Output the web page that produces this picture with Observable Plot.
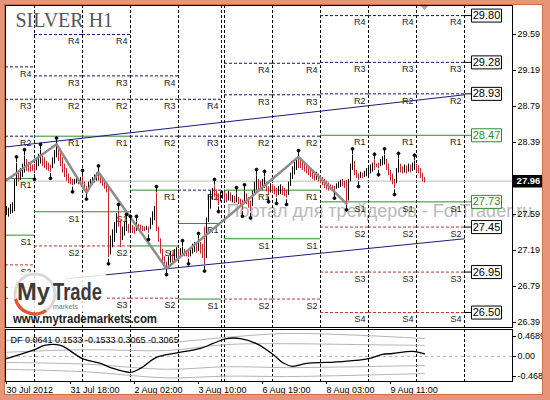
<!DOCTYPE html>
<html><head><meta charset="utf-8">
<script src="https://cdn.jsdelivr.net/npm/d3@7"></script>
<script src="https://cdn.jsdelivr.net/npm/@observablehq/plot@0.6"></script>
<style>
html,body{margin:0;padding:0;background:#fff;}
#wrap{position:relative;width:550px;height:400px;overflow:hidden;background:#fff;font-family:"Liberation Sans",Arial,sans-serif;}
#main{position:absolute;left:0;top:0;}
#ind{position:absolute;left:0;top:327px;}
#logo{position:absolute;left:0;top:0;pointer-events:none;}
#border{position:absolute;left:0;top:0;width:550px;height:400px;box-sizing:border-box;border-style:solid;border-color:#e6957a;border-width:4px 7px 5px 4px;box-shadow:inset 0 0 0 1px #c9704f;pointer-events:none;}
</style></head>
<body><div id="wrap"><div id="main"></div><div id="ind"></div>
<svg id="logo" width="550" height="400">
  <rect x="9" y="272" width="98" height="40" rx="6" fill="#fff" opacity="0.85"/>
  <circle cx="35" cy="294" r="20" fill="none" stroke="#d9d9d9" stroke-width="3"/>
  <path d="M 15.5 299 A 20 20 0 0 0 46 310.5" fill="none" stroke="#e2532f" stroke-width="3.2"/>
  <text x="17" y="300" font-family="Liberation Sans, Arial, sans-serif" font-weight="bold" font-size="24" fill="#3b3b3b" textLength="33" lengthAdjust="spacingAndGlyphs">My</text>
  <text x="53" y="300" font-family="Liberation Sans, Arial, sans-serif" font-weight="bold" font-size="24" fill="#3b3b3b" textLength="49" lengthAdjust="spacingAndGlyphs">Trade</text>
  <text x="53" y="309" font-family="Liberation Sans, Arial, sans-serif" font-size="7" fill="#7a7a7a">markets</text>
  <text x="13" y="323" font-family="Liberation Sans, Arial, sans-serif" font-weight="bold" font-size="12.5" fill="#222" textLength="144" lengthAdjust="spacingAndGlyphs">www.mytrademarkets.com</text>
</svg>
<div id="border"></div></div>
<script>
// ---------- data ----------
const priceTicks = [29.59, 29.19, 28.79, 28.39, 27.99, 27.59, 27.19, 26.79, 26.39];
const lastPrice = 27.96;
const days = ["30 Jul","31 Jul","1 Aug","2 Aug","3 Aug","6 Aug","7 Aug","8 Aug","9 Aug","10 Aug"];
const dayStart = [-0.5, 14, 38, 62, 86, 109, 133, 157, 181, 205];
const dayEnd   = [14, 38, 62, 86, 107.5, 133, 157, 181, 205, 229];
const separators = [14, 38, 62, 86, 107.5, 109, 133, 157, 181, 205, 229];
const levelR4 = [29.23, 29.59, 29.59, 29.13, 28.87, 29.27, 29.27, 29.80, 29.80, 29.80];
const levelR3 = [28.87, 29.13, 29.13, 28.87, 28.46, 28.92, 28.92, 29.28, 29.28, 29.28];
const levelR2 = [28.46, 28.87, 28.87, 28.46, 27.86, 28.46, 28.46, 28.93, 28.93, 28.93];
const levelR1 = [27.99, 28.46, 28.46, 27.86, 27.49, 27.86, 27.86, 28.47, 28.47, 28.47];
const levelS1 = [27.36, 27.62, 27.62, 27.24, 26.65, 27.32, 27.32, 27.73, 27.73, 27.73];
const levelS2 = [27.03, 27.24, 27.24, 26.66, null, 26.65, 26.65, 27.45, 27.45, 27.45];
const levelS3 = [26.78, 26.66, 26.66, null, null, null, null, 26.95, 26.95, 26.95];
const levelS4 = [26.66, null, null, null, null, null, null, 26.50, 26.50, 26.50];
// level labels covered by the logo in the reference (not drawn)
const hiddenLabels = ["30 Jul S3", "30 Jul S4", "31 Jul S3"];

// H1 bars (bar index 0 = first visible hour)
const barHigh = [
 27.68,27.66,27.70,27.72,27.98,28.16,28.08,28.10,28.15,28.24,
 28.20,28.17,28.15,28.14,28.15,28.22,28.26,28.30,28.26,28.22,
 28.18,28.16,28.14,28.22,28.30,28.37,28.33,28.28,28.22,28.15,
 28.10,28.04,28.00,27.98,27.98,27.99,27.99,28.00,28.01,27.95,
 27.90,27.95,27.98,28.00,28.03,28.05,28.06,28.03,28.00,27.97,
 27.93,27.90,27.35,27.42,27.50,27.60,27.63,27.52,27.45,27.50,
 27.52,27.48,27.50,27.47,27.45,27.50,27.48,27.47,27.46,27.45,
 27.46,27.45,27.55,27.62,27.68,27.83,27.45,27.32,27.20,27.12,
 27.06,27.12,27.18,27.15,27.20,27.22,27.20,27.21,27.23,27.20,
 27.17,27.18,27.22,27.26,27.28,27.27,27.31,27.28,27.26,27.45,
 27.55,27.80,27.85,27.88,27.91,27.86,27.82,27.84,27.85,27.84,
 27.82,27.85,27.83,27.80,27.79,27.82,27.78,27.76,27.75,27.85,
 27.82,27.78,27.74,27.85,27.95,28.02,27.98,27.96,27.98,28.00,
 27.95,27.90,27.93,27.92,27.90,27.88,27.90,27.92,27.90,27.88,
 27.86,27.95,28.05,28.12,28.17,28.20,28.23,28.20,28.18,28.16,
 28.14,28.12,28.10,28.08,28.06,28.06,28.04,28.02,28.00,27.98,
 27.96,27.94,27.92,27.91,27.90,27.93,27.95,27.97,27.98,27.96,
 27.97,27.98,28.15,28.25,28.18,28.08,28.04,28.06,28.05,28.07,
 28.10,28.12,28.14,28.16,28.19,28.15,28.16,28.20,28.23,28.25,
 28.20,28.15,28.08,28.04,27.98,28.10,28.20,28.15,28.12,28.14,
 28.13,28.15,28.14,28.16,28.18,28.15,28.13,28.10,28.05,28.00];
const barLow = [
 27.58,27.56,27.59,27.60,27.62,27.90,27.95,27.97,28.00,28.05,
 28.07,28.06,28.06,28.07,28.05,28.08,28.12,28.15,28.12,28.10,
 28.08,28.07,28.06,28.10,28.15,28.22,28.18,28.12,28.05,28.00,
 27.96,27.93,27.92,27.91,27.92,27.93,27.92,27.93,27.90,27.86,
 27.83,27.85,27.89,27.92,27.94,27.96,27.96,27.93,27.90,27.87,
 27.83,27.11,27.14,27.22,27.28,27.38,27.45,27.22,27.30,27.35,
 27.40,27.38,27.40,27.38,27.37,27.40,27.40,27.41,27.40,27.40,
 27.41,27.38,27.42,27.47,27.52,27.40,27.28,27.15,27.05,27.00,
 26.99,27.00,27.05,27.03,27.06,27.10,27.08,27.12,27.13,27.12,
 27.12,27.11,27.12,27.15,27.17,27.16,27.18,27.15,27.10,27.03,
 27.10,27.50,27.65,27.75,27.78,27.74,27.69,27.73,27.76,27.74,
 27.72,27.74,27.73,27.72,27.71,27.72,27.70,27.68,27.64,27.70,
 27.70,27.66,27.62,27.68,27.80,27.86,27.86,27.85,27.86,27.88,
 27.84,27.80,27.83,27.82,27.81,27.78,27.80,27.81,27.80,27.79,
 27.77,27.80,27.90,27.98,28.03,28.08,28.10,28.10,28.08,28.06,
 28.04,28.02,28.00,27.98,27.96,27.97,27.95,27.93,27.91,27.88,
 27.86,27.85,27.86,27.85,27.84,27.87,27.88,27.89,27.90,27.88,
 27.71,27.74,27.95,28.08,28.02,27.99,27.97,27.99,27.99,28.00,
 28.01,28.02,28.04,28.06,28.08,28.11,28.10,28.12,28.13,28.14,
 28.08,28.02,27.96,27.92,27.88,27.93,28.05,28.05,28.04,28.05,
 28.04,28.06,28.05,28.07,28.08,28.06,28.04,27.99,27.95,27.94];
const barDir = [
 "uuuuuuduuu","ddddduuudd","ddduuudddd","dddduududd","duuuuudddd",
 "dduuuudduu","ududdudddd","uduuuddddd","duuduuduud","dduuududdd",
 "uuuuddduud","dudududddu","ddduuudduu","dduddduudd","duuuuudddd",
 "dddddudddd","ddddduuudd","duuudddudu","uuuuddduuu","ddddduuddu",
 "duduuddddd"].join("");
const fractalUp = [5, 9, 17, 25, 38, 46, 56, 60, 62, 65, 75, 88, 96, 104, 115, 119, 125, 129, 146, 173, 184, 189, 196, 204];
const fractalDown = [14, 22, 33, 40, 51, 71, 80, 91, 99, 106, 118, 122, 131, 135, 140, 164, 170, 176, 186, 194];
const zigzagBar = [0, 25, 40, 46, 80, 146, 170];
const zigzagPrice = [27.97, 28.37, 27.83, 28.06, 26.99, 28.23, 27.71];
const trendUpperBar = [-0.5, 229], trendUpperPrice = [28.34, 28.92];
const trendLowerBar = [30, 229],   trendLowerPrice = [26.875, 27.32];

// indicator
const dfTitle = "DF 0.0641 0.1533 -0.1533 0.3065 -0.3065";
const dfBar   = [0, 14, 19, 27, 38, 47, 52, 62, 67, 75, 86, 97, 103, 110, 117, 125, 134, 138, 143, 150, 160, 168, 181, 188, 193, 203, 209];
const dfValue = [-0.05, 0.16, 0.26, 0.26, -0.05, -0.16, -0.26, -0.37, -0.28, -0.02, 0.09, 0.19, 0.30, 0.42, 0.42, 0.30, 0.02, -0.14, -0.23, -0.16, -0.14, -0.12, -0.05, 0.05, 0.07, 0.12, 0.064];
const bandBar = [0, 40, 80, 110, 140, 175, 209];
const bandU2 = [0.38, 0.36, 0.33, 0.45, 0.54, 0.50, 0.42];
const bandU1 = [0.10, 0.16, 0.14, 0.28, 0.30, 0.28, 0.26];
const bandL1 = [-0.14, -0.18, -0.30, -0.24, -0.26, -0.24, -0.21];
const bandL2 = [-0.30, -0.36, -0.50, -0.46, -0.47, -0.44, -0.40];
const indTicks = [0.4689, 0, -0.4685];
const indTickLabels = ["0.4689", "0.00", "-0.4685"];
const timeTicks = [0, 32, 64, 96, 128, 160, 192];
const timeLabels = ["30 Jul 2012", "31 Jul 18:00", "2 Aug 02:00", "3 Aug 10:00", "6 Aug 19:00", "8 Aug 03:00", "9 Aug 11:00"];

// ---------- build ----------
const NAVY = "#15156e", RED = "#b3362f", GREEN = "#2f8a2f", BLACK = "#000";
const levelSets = {R4: levelR4, R3: levelR3, R2: levelR2, R1: levelR1, S1: levelS1, S2: levelS2, S3: levelS3, S4: levelS4};
const levels = [];
for (const [name, vals] of Object.entries(levelSets)) vals.forEach((v, i) => {
  if (v != null) levels.push({name, day: days[i], x1: dayStart[i], x2: dayEnd[i], y: v});
});
const labelled = levels.filter(d => !hiddenLabels.includes(d.day + " " + d.name));
const last = days.length - 1;
const boxes = levels.filter(d => d.day === days[last]).map(d => ({...d, label: d.y.toFixed(2), green: d.name === "R1" || d.name === "S1"}));
const bars = barHigh.map((h, i) => ({b: i, hi: h, lo: barLow[i], up: barDir[i] === "u"}));
const zigzag = zigzagBar.map((b, i) => ({b, p: zigzagPrice[i]}));
const trend = [
  ...trendUpperBar.map((b, i) => ({b, p: trendUpperPrice[i], k: "upper"})),
  ...trendLowerBar.map((b, i) => ({b, p: trendLowerPrice[i], k: "lower"}))];
const frUp = fractalUp.map(b => ({b, p: barHigh[b]}));
const frDown = fractalDown.map(b => ({b, p: barLow[b]}));

const pinUp = {draw(c) { c.moveTo(0, -1); c.lineTo(0, -5); c.moveTo(1.4, -6.2); c.arc(0, -6.2, 1.4, 0, 2 * Math.PI); }};
const pinDown = {draw(c) { c.moveTo(0, 1); c.lineTo(0, 5); c.moveTo(1.4, 6.2); c.arc(0, 6.2, 1.4, 0, 2 * Math.PI); }};
const boxSym = {draw(c) { c.moveTo(-22, 0); c.lineTo(-15, 0); c.rect(-15, -6.5, 30, 13); }};
const curSym = {draw(c) { c.rect(-15, -5.5, 30, 11); }};
const triSym = {draw(c) { c.moveTo(-4, 0); c.lineTo(4, 0); c.lineTo(0, 5); c.closePath(); }};

const yTop = 29.912, yBottom = 26.334;
const font = "Liberation Sans, Arial, sans-serif";

const main = Plot.plot({
  width: 550, height: 330,
  marginLeft: 5, marginRight: 38, marginTop: 5, marginBottom: 3,
  style: {background: "transparent", fontFamily: font, fontSize: "9px", color: "#000"},
  x: {domain: [-0.5, 253], axis: null},
  y: {domain: [yBottom, yTop]},
  marks: [
    Plot.text([`Портал для трейдеров - ForTrader.ru`], {text: d => d, frameAnchor: "top-left", dx: 221, dy: 206, textAnchor: "start", lineAnchor: "middle", fontSize: 18, fill: "#b9b9b9", fontFamily: font}),
    Plot.ruleX(separators, {stroke: BLACK, strokeDasharray: "3,2"}),
    Plot.ruleY(levels.filter(d => /^R[234]$/.test(d.name)), {x1: "x1", x2: "x2", y: "y", stroke: NAVY, strokeDasharray: "3,2"}),
    Plot.ruleY(levels.filter(d => /^S[234]$/.test(d.name)), {x1: "x1", x2: "x2", y: "y", stroke: RED, strokeDasharray: "3,2"}),
    Plot.ruleY(levels.filter(d => d.name === "R1" || d.name === "S1"), {x1: "x1", x2: "x2", y: "y", stroke: GREEN}),
    Plot.ruleY([lastPrice], {stroke: "#bdbdbd"}),
    Plot.line(trend, {x: "b", y: "p", z: "k", stroke: "#1a1a80", strokeWidth: 1}),
    Plot.text(labelled, {x: "x2", y: "y", text: "name", textAnchor: "end", dx: -3, dy: 7, fontSize: 9, fill: "#1e1e1e"}),
    Plot.ruleX(bars.filter(d => !d.up), {x: "b", y1: "lo", y2: "hi", stroke: "#c8282d"}),
    Plot.ruleX(bars.filter(d => d.up), {x: "b", y1: "lo", y2: "hi", stroke: "#000"}),
    Plot.line(zigzag, {x: "b", y: "p", stroke: "#8d8d8d", strokeWidth: 2.5}),
    Plot.dot(frUp, {x: "b", y: "p", symbol: pinUp, fill: "#000", stroke: "#000", strokeWidth: 1}),
    Plot.dot(frDown, {x: "b", y: "p", symbol: pinDown, fill: "#000", stroke: "#000", strokeWidth: 1}),
    Plot.dot(boxes, {x: dayEnd[last], y: "y", symbol: boxSym, dx: 22, fill: "#fff", stroke: d => d.green ? GREEN : "#000", strokeWidth: 1}),
    Plot.text(boxes, {x: dayEnd[last], y: "y", text: "label", dx: 22, fontSize: 11, fill: d => d.green ? GREEN : "#000"}),
    Plot.axisY(priceTicks, {anchor: "right", tickSize: 3, tickPadding: 2, tickFormat: d => d.toFixed(2), fontSize: 9, label: null}),
    Plot.dot([lastPrice], {x: 253, y: d => d, symbol: curSym, dx: 16, fill: "#000", stroke: "#000"}),
    Plot.text([lastPrice], {x: 253, y: d => d, text: d => d.toFixed(2), dx: 16, fontSize: 9.5, fill: "#fff", fontWeight: "bold"}),
    Plot.dot([yTop], {x: 209, y: d => d, symbol: triSym, fill: "#a8a8a8", stroke: "none"}),
    Plot.frame({stroke: "#000"}),
    Plot.text(["SILVER H1"], {text: d => d, frameAnchor: "top-left", dx: 10, dy: 15, textAnchor: "start", lineAnchor: "middle", fontFamily: "Liberation Serif, Times New Roman, serif", fontSize: 20, fill: "#555"})
  ]
});
document.getElementById("main").append(main);

const dfData = dfBar.map((b, i) => ({b, v: dfValue[i]}));
const bands = [];
[["u2", bandU2], ["u1", bandU1], ["l1", bandL1], ["l2", bandL2]].forEach(([k, arr]) => arr.forEach((v, i) => bands.push({k, b: bandBar[i], v})));
const indLabel = new Map(indTicks.map((t, i) => [t, indTickLabels[i]]));
const timeLabel = new Map(timeTicks.map((t, i) => [t, timeLabels[i]]));

const ind = Plot.plot({
  width: 550, height: 73,
  marginLeft: 5, marginRight: 38, marginTop: 2, marginBottom: 19,
  style: {background: "transparent", fontFamily: font, fontSize: "9px", color: "#000"},
  x: {domain: [-0.5, 253]},
  y: {domain: [-0.586, 0.633]},
  marks: [
    Plot.ruleX(separators, {stroke: BLACK, strokeDasharray: "3,2"}),
    Plot.ruleY([0], {stroke: "#b5b5b5", strokeDasharray: "3,3"}),
    Plot.line(bands, {x: "b", y: "v", z: "k", stroke: "#b4b4b4", strokeWidth: 1, curve: "catmull-rom"}),
    Plot.line(dfData, {x: "b", y: "v", stroke: "#000", strokeWidth: 1.3, curve: "catmull-rom"}),
    Plot.text([dfTitle], {text: d => d, frameAnchor: "top-left", dx: 5, dy: 11, textAnchor: "start", lineAnchor: "middle", fontSize: 9, fill: "#000"}),
    Plot.axisY(indTicks, {anchor: "right", tickSize: 3, tickPadding: 2, tickFormat: d => indLabel.get(d), fontSize: 9, label: null}),
    Plot.axisX(timeTicks, {anchor: "bottom", tickSize: 3, tickPadding: 2, tickFormat: d => timeLabel.get(d), textAnchor: "start", fontSize: 9, label: null}),
    Plot.frame({stroke: "#000"})
  ]
});
document.getElementById("ind").append(ind);
</script>
</body></html>
